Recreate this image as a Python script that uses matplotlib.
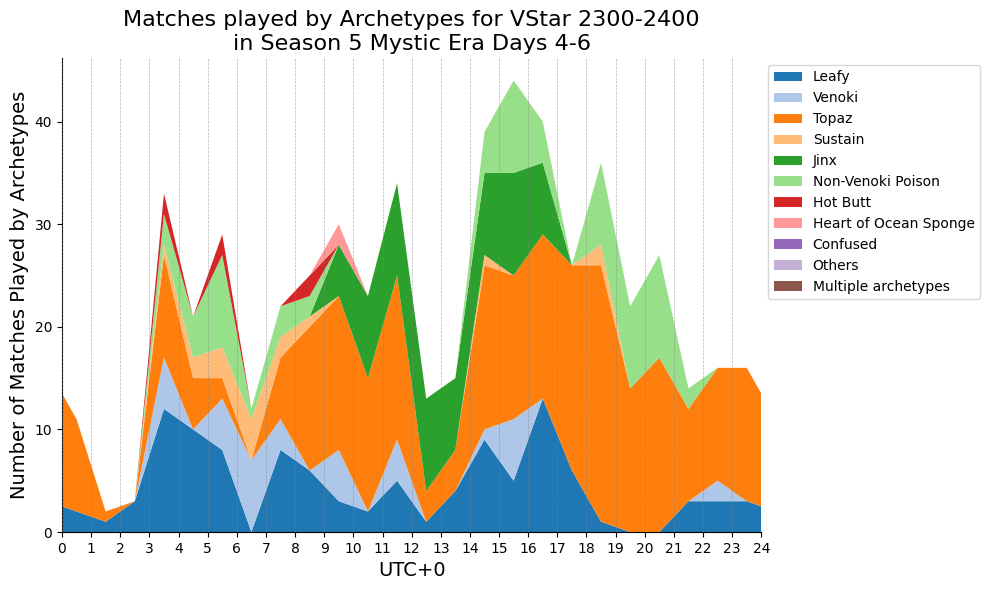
import matplotlib
matplotlib.use("Agg")
import matplotlib.pyplot as plt

hours = [0, 0.5, 1.5, 2.5, 3.5, 4.5, 5.5, 6.5, 7.5, 8.5, 9.5, 10.5, 11.5, 12.5,
         13.5, 14.5, 15.5, 16.5, 17.5, 18.5, 19.5, 20.5, 21.5, 22.5, 23.5, 24]

leafy   = [2.5, 2, 1, 3, 12, 10, 8, 0, 8, 6, 3, 2, 5, 1, 4, 9, 5, 13, 6, 1, 0, 0, 3, 3, 3, 2.5]
venoki  = [0, 0, 0, 0, 5, 0, 5, 7, 3, 0, 5, 0, 4, 0, 0, 1, 6, 0, 0, 0, 0, 0, 0, 2, 0, 0]
topaz   = [11, 9, 1, 0, 10, 5, 2, 0, 6, 14, 15, 13, 16, 3, 4, 16, 14, 16, 20, 25, 14, 17, 9, 11, 13, 11]
sustain = [0, 0, 0, 0, 1, 2, 3, 4, 2, 1, 0, 0, 0, 0, 0, 1, 0, 0, 0, 2, 0, 0, 0, 0, 0, 0]
jinx    = [0, 0, 0, 0, 0, 0, 0, 0, 0, 0, 5, 8, 9, 9, 7, 8, 10, 7, 0, 0, 0, 0, 0, 0, 0, 0]
nvp     = [0, 0, 0, 0, 3, 4, 9, 1, 3, 2, 0, 0, 0, 0, 0, 4, 9, 4, 0, 8, 8, 10, 2, 0, 0, 0]
hot_butt = [0, 0, 0, 0, 2, 0, 2, 0, 0, 2, 0, 0, 0, 0, 0, 0, 0, 0, 0, 0, 0, 0, 0, 0, 0, 0]
heart_sponge = [0, 0, 0, 0, 0, 0, 0, 0, 0, 0, 2, 0, 0, 0, 0, 0, 0, 0, 0, 0, 0, 0, 0, 0, 0, 0]
confused = [0] * 26
others   = [0] * 26
multiple = [0] * 26

labels = ["Leafy", "Venoki", "Topaz", "Sustain", "Jinx", "Non-Venoki Poison",
          "Hot Butt", "Heart of Ocean Sponge", "Confused", "Others",
          "Multiple archetypes"]
series = [leafy, venoki, topaz, sustain, jinx, nvp, hot_butt, heart_sponge,
          confused, others, multiple]
colors = ["#1f77b4", "#aec7e8", "#ff7f0e", "#ffbb78", "#2ca02c", "#98df8a",
          "#d62728", "#ff9896", "#9467bd", "#c5b0d5", "#8c564b"]
xticks = list(range(0, 25))

fig, ax = plt.subplots(figsize=(9.9, 5.9), dpi=100)
ax.stackplot(hours, *series, labels=labels, colors=colors, linewidth=0)

ax.set_xticks(xticks)
ax.set_xlim(0, 24)
ax.grid(axis="x", color="gray", linestyle="--", linewidth=0.5, alpha=0.6)
ax.set_axisbelow(False)
ax.spines["top"].set_visible(False)
ax.spines["right"].set_visible(False)

ax.set_title("Matches played by Archetypes for VStar 2300-2400\nin Season 5 Mystic Era Days 4-6",
             fontsize=16)
ax.set_xlabel("UTC+0", fontsize=14)
ax.set_ylabel("Number of Matches Played by Archetypes", fontsize=14)
ax.legend(loc="upper left", bbox_to_anchor=(1, 1), fontsize=10)

fig.subplots_adjust(left=0.0626, right=0.769, bottom=0.0983, top=0.9017)
fig.savefig("out.png", dpi=100)
